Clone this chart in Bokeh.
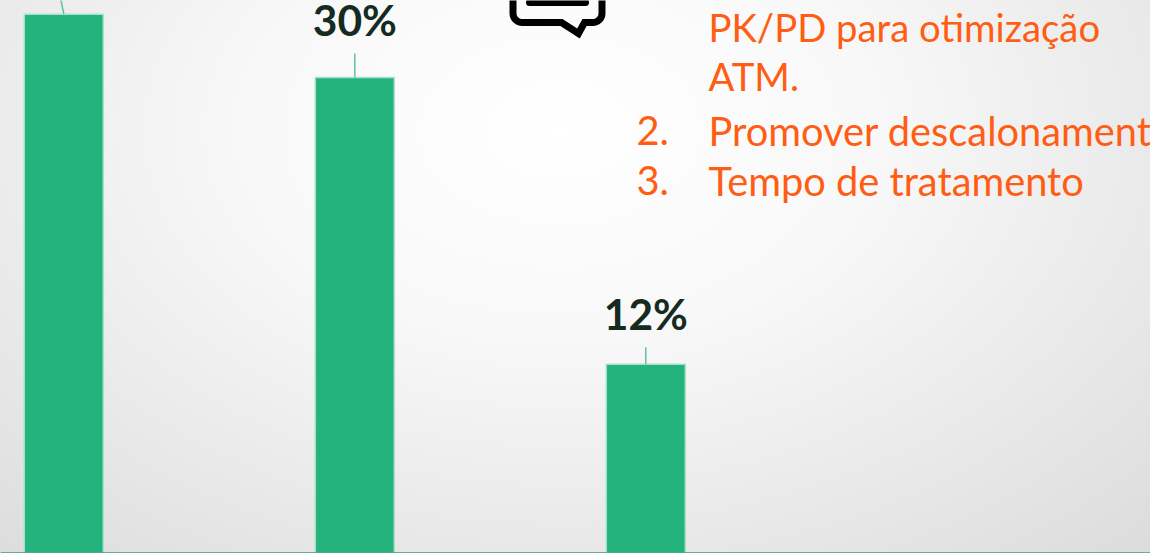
import math
from bokeh.embed import file_html
from bokeh.resources import INLINE
from bokeh.plotting import figure
from bokeh.models import Label, Range1d, ColumnDataSource
from bokeh.core.properties import value

# ---- data ----
positions = [0, 1, 2]
shares = [34.1, 30.1, 11.95]
value_labels = ["", "30%", "12%"]
list_numbers = ["2.", "3."]
list_lines = ["PK/PD para otimização", "ATM.", "Promover descalonamento", "Tempo de tratamento"]

W, H = 1150, 553
BASE_PX, PX_PER_PCT = 552.5, 15.8
X0_PX, STEP_PX = 63.3, 291.0

GREEN = "#24B37C"
EDGE = "#A6E2CB"
LEADER = "#5FC2A2"
DARK = "#152B22"
ORANGE = "#FF5D14"
FONT = "Lato"

def dx(px):
    return (px - X0_PX) / STEP_PX

def dy(py):
    return (BASE_PX - py) / PX_PER_PCT

p = figure(width=W, height=H, output_backend="svg", toolbar_location=None,
           x_range=Range1d(dx(0), dx(W)), y_range=Range1d(dy(H), dy(0)),
           min_border=0, outline_line_color=None)
p.xaxis.visible = False
p.yaxis.visible = False
p.grid.visible = False
p.background_fill_alpha = 0
p.border_fill_alpha = 0
p.styles = {"background": "radial-gradient(ellipse 900px 600px at 560px 130px, #ffffff 0%, #f8f8f8 35%, #dadada 100%)"}

src = ColumnDataSource(dict(x=positions, top=shares, bottom=[0, 0, 0]))
p.vbar(x="x", top="top", bottom="bottom", width=79 / STEP_PX, source=src,
       fill_color=GREEN, line_color=EDGE, line_width=1.5)

# leader lines above bars
leader_len_px = [20, 24, 17]
leader_shift_px = [-4, 0, 0]
p.segment(x0=positions,
          y0=shares,
          x1=[x + s / STEP_PX for x, s in zip(positions, leader_shift_px)],
          y1=[v + l / PX_PER_PCT for v, l in zip(shares, leader_len_px)],
          line_color=LEADER, line_width=1.5)

# baseline
p.line([dx(0), dx(W)], [0, 0], line_color="#3E9C80", line_width=1.5)

# value labels
label_gap_px = [58, 51]
p.text(x=positions[1:], y=[v + g / PX_PER_PCT for v, g in zip(shares[1:], label_gap_px)],
       text=value_labels[1:],
       text_font=value(FONT), text_font_style="bold", text_font_size="42.5px",
       text_color=DARK, text_align="center", text_baseline="alphabetic")

# speech-bubble icon
def corner(cx, cy, r, a0, a1, n=6):
    return [(cx + r * math.cos(math.radians(a0 + (a1 - a0) * i / n)),
             cy + r * math.sin(math.radians(a0 + (a1 - a0) * i / n))) for i in range(n + 1)]

path = [(512.5, -4)]
path += corner(521.5, 13, 9, 180, 90)
path += [(561, 22), (578, 33), (584, 22)]
path += corner(592.5, 13, 9, 90, 0)
path += [(601.5, -4)]
p.line([dx(a) for a, _ in path], [dy(b) for _, b in path], line_color="black",
       line_width=7, line_join="miter")
p.line([dx(529), dx(585)], [dy(2), dy(2)], line_color="black", line_width=7, line_cap="round")

# orange list
def lab(x, y, t, size):
    p.add_layout(Label(x=x, y=H - y, x_units="screen", y_units="screen", text=t,
                       text_font=FONT, text_font_size=size, text_color=ORANGE,
                       text_baseline="alphabetic"))

lab(708, 26, list_lines[0], "38.3px")
lab(708, 75, list_lines[1], "38.3px")
lab(708, 130, list_lines[2], "39.8px")
lab(708, 180, list_lines[3], "39.8px")
lab(636, 130, list_numbers[0], "39.8px")
lab(636, 180, list_numbers[1], "39.8px")

open("out.html", "w").write(file_html(p, INLINE))
